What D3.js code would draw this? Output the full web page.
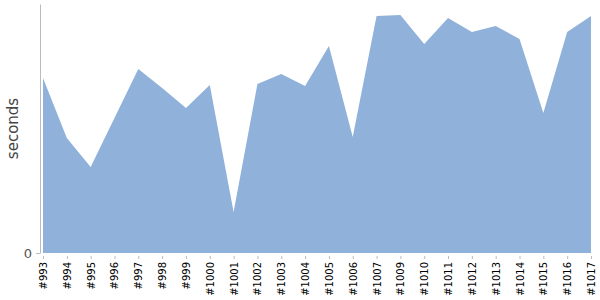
<!DOCTYPE html>
<html>
<head>
<meta charset="utf-8">
<script src="https://cdn.jsdelivr.net/npm/d3@7"></script>
<style>
  body { margin: 0; background: #fff; }
  svg { display: block; font-family: "DejaVu Sans", sans-serif; }
</style>
</head>
<body>
<svg width="600" height="300"></svg>
<script>
// builds, in order
var builds = ["#993", "#994", "#995", "#996", "#997", "#998", "#999", "#1000", "#1001", "#1002",
              "#1003", "#1004", "#1005", "#1006", "#1007", "#1009", "#1010", "#1011", "#1012",
              "#1013", "#1014", "#1015", "#1016", "#1017"];

// time per build (seconds)
var seconds = [175, 115, 86, 135, 184, 165, 145, 168, 41, 169,
               179, 167, 207, 116, 237, 238, 209, 235, 221,
               227, 214, 140, 221, 237];

var yTicks = [0];

var svg = d3.select("svg"),
    plotLeft = 40, plotTop = 4, plotBottom = 253;

var x = d3.scalePoint().domain(builds).range([43, 591]),
    y = d3.scaleLinear().domain([0, 249]).range([plotBottom, plotTop]);

var data = builds.map(function(b, i) { return {build: b, value: seconds[i]}; });

var area = d3.area()
    .x(function(d) { return x(d.build); })
    .y0(y(0))
    .y1(function(d) { return y(d.value); });

svg.append("path")
    .datum(data)
    .attr("fill", "#8fb1da")
    .attr("d", area);

// y axis
var yAxis = svg.append("g")
    .attr("transform", "translate(" + plotLeft + ",0)")
    .call(d3.axisLeft(y).tickValues(yTicks).tickSize(4).tickPadding(4).tickSizeOuter(0))
    .attr("font-family", null);
yAxis.select(".domain").attr("stroke", "#bbb");
yAxis.selectAll(".tick line").attr("stroke", "#bbb");
yAxis.selectAll(".tick text").attr("fill", "#555").style("font-size", "13px");

svg.append("text")
    .attr("transform", "translate(18," + ((plotTop + plotBottom) / 2) + ") rotate(-90)")
    .attr("text-anchor", "middle")
    .attr("fill", "#444")
    .style("font-size", "15px")
    .text("seconds");

// x axis: ticks only, labels rotated
var xAxis = svg.append("g")
    .attr("transform", "translate(0," + (plotBottom + 3) + ")")
    .call(d3.axisBottom(x).tickSize(3).tickSizeOuter(0))
    .attr("font-family", null);
xAxis.select(".domain").remove();
xAxis.selectAll(".tick line").attr("stroke", "#bbb");
xAxis.selectAll(".tick text")
    .attr("fill", "#000")
    .style("font-size", "10px")
    .attr("text-anchor", "end")
    .attr("transform", "rotate(-90)")
    .attr("x", -6)
    .attr("y", 0)
    .attr("dy", "0.35em");
</script>
</body>
</html>
